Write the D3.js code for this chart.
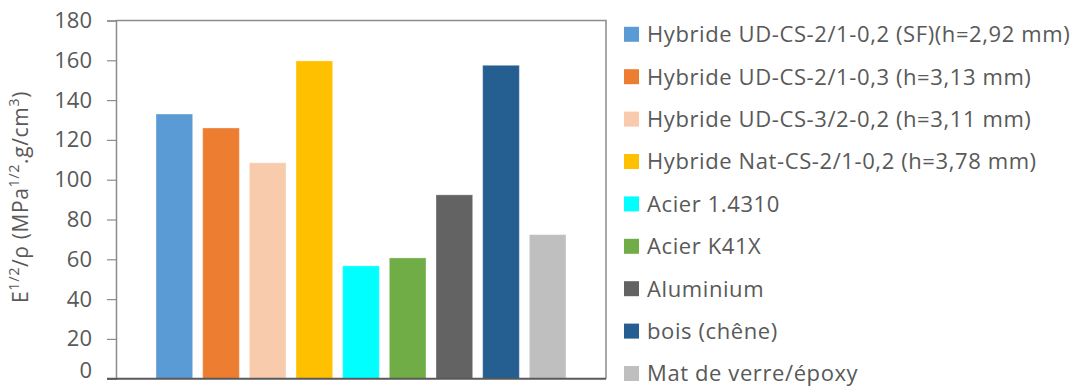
<!DOCTYPE html>
<html>
<head>
<meta charset="utf-8">
<script src="https://cdn.jsdelivr.net/npm/d3@7"></script>
<style>
  html, body { margin: 0; padding: 0; background: #fff; }
  svg { display: block; }
  text { font-family: "Open Sans", "Noto Sans", sans-serif; fill: #595959; }
</style>
</head>
<body>
<svg id="chart" width="1075" height="387"></svg>
<script>
// Specific stiffness E^1/2/ρ for each material
const seriesNames = [
  "Hybride UD-CS-2/1-0,2 (SF)(h=2,92 mm)",
  "Hybride UD-CS-2/1-0,3 (h=3,13 mm)",
  "Hybride UD-CS-3/2-0,2 (h=3,11 mm)",
  "Hybride Nat-CS-2/1-0,2 (h=3,78 mm)",
  "Acier 1.4310",
  "Acier K41X",
  "Aluminium",
  "bois (chêne)",
  "Mat de verre/époxy"
];
const seriesValues = [133, 126, 108.5, 159.7, 56.7, 60.7, 92.4, 157.5, 72.4];
const seriesColors = ["#5b9bd5", "#ed7d31", "#f8cbad", "#ffc000", "#00ffff", "#70ad47", "#636363", "#255e91", "#bfbfbf"];
const yTicks = [0, 20, 40, 60, 80, 100, 120, 140, 160, 180];

const svg = d3.select("#chart");
const plot = { left: 116, right: 606, top: 20.5, bottom: 378.7 };

const y = d3.scaleLinear().domain([0, 180]).range([plot.bottom, plot.top]);
const x = d3.scaleBand()
  .domain(seriesNames)
  .range([plot.left, plot.right])
  .paddingInner(0.214)
  .paddingOuter(0.857);

// plot area frame (top and right)
svg.append("path")
  .attr("d", `M${plot.left},${plot.top}H${plot.right}V${plot.bottom}`)
  .attr("fill", "none")
  .attr("stroke", "#8c8c8c")
  .attr("stroke-width", 1.5);

// bars
svg.append("g").selectAll("rect")
  .data(seriesNames)
  .join("rect")
  .attr("x", d => x(d))
  .attr("width", x.bandwidth())
  .attr("y", (d, i) => y(seriesValues[i]))
  .attr("height", (d, i) => y(0) - y(seriesValues[i]))
  .attr("fill", (d, i) => seriesColors[i])
  .attr("stroke", "rgba(255,255,255,0.35)")
  .attr("stroke-width", 1);

// y axis
const yAxis = svg.append("g")
  .attr("transform", `translate(${plot.left},0)`)
  .call(d3.axisLeft(y).tickValues(yTicks).tickSize(9).tickPadding(15).tickFormat(d3.format("d")));
yAxis.select(".domain").attr("stroke", "#8c8c8c").attr("stroke-width", 1.5);
yAxis.selectAll(".tick line").attr("stroke", "#8c8c8c").attr("stroke-width", 1.2);
yAxis.selectAll(".tick text")
  .attr("fill", "#595959")
  .style("font-size", "22px")
  .style("font-family", "'Open Sans', 'Noto Sans', sans-serif");
// keep the lowest label inside the canvas
yAxis.selectAll(".tick text").filter(d => d === 0).attr("dy", "-0.05em");

// baseline
svg.append("line")
  .attr("x1", plot.left - 9).attr("x2", plot.right)
  .attr("y1", y(0)).attr("y2", y(0))
  .attr("stroke", "#595959")
  .attr("stroke-width", 2);

// y axis title with superscripts
const title = svg.append("text")
  .attr("transform", `translate(28,197) rotate(-90)`)
  .attr("text-anchor", "middle")
  .style("font-size", "21px")
  .style("letter-spacing", "0.6px");
const parts = [
  ["E", false], ["1/2", true], ["/ρ (MPa", false], ["1/2", true], [".g/cm", false], ["3", true], [")", false]
];
parts.forEach(([t, sup]) => {
  title.append("tspan")
    .attr("baseline-shift", sup ? "super" : null)
    .style("font-size", sup ? "14.5px" : null)
    .text(t);
});

// legend
const legendTop = 34.3, legendStep = 42.4;
const legend = svg.append("g").selectAll("g")
  .data(seriesNames)
  .join("g")
  .attr("transform", (d, i) => `translate(624,${legendTop + i * legendStep})`);
legend.append("rect")
  .attr("x", 0).attr("y", -7.5)
  .attr("width", 15).attr("height", 15)
  .attr("fill", (d, i) => seriesColors[i]);
legend.append("text")
  .attr("x", 23)
  .attr("dy", "0.36em")
  .style("font-size", "22px")
  .style("letter-spacing", "0.6px")
  .text(d => d);
</script>
</body>
</html>
